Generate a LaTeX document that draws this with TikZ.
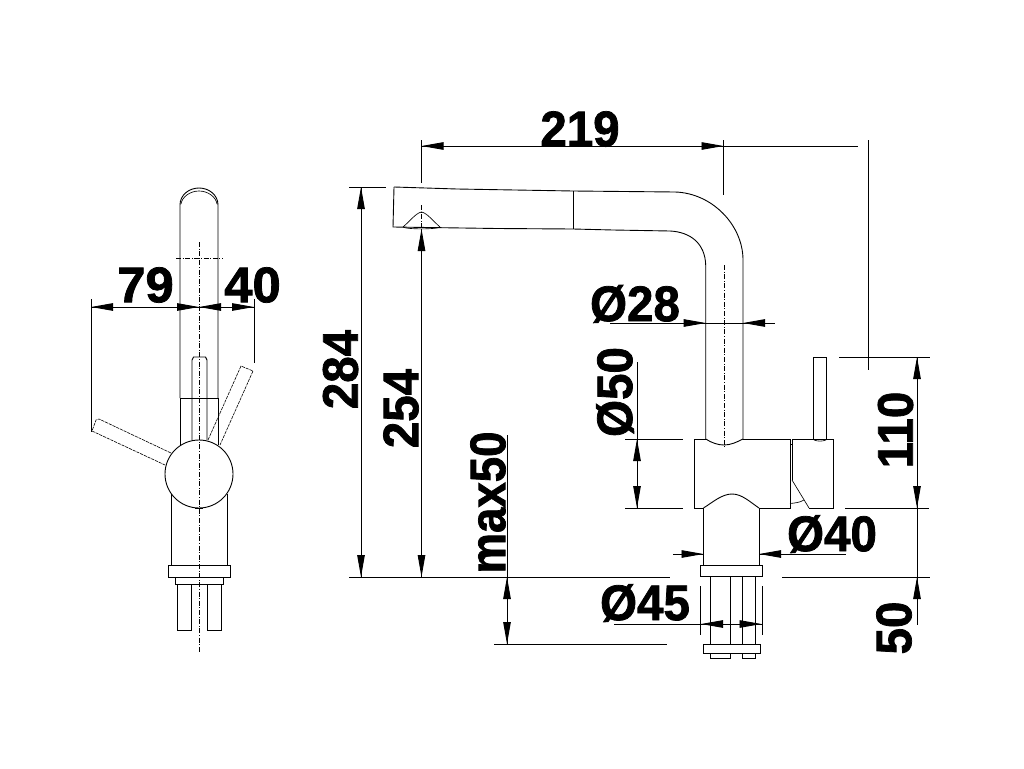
\documentclass[tikz,border=0pt]{standalone}
\usepackage{graphicx}
\usepackage{fontspec}
\setmainfont{Liberation Sans}
\newfontfamily\lblf{Liberation Sans}[UprightFont=* Bold,FakeBold=1.5,FakeStretch=0.95]
\usetikzlibrary{arrows.meta}
\tikzset{
  ln/.style={line width=0.9pt,black},
  thin ln/.style={line width=0.65pt,black},
  dd/.style={line width=0.6pt,dash pattern=on 5pt off 1.6pt on 1pt off 1.6pt},
  dsh/.style={line width=0.6pt,dash pattern=on 3.2pt off 0.9pt},
  lbl/.style={font=\fontsize{50}{50}\lblf,inner sep=0pt,text=black},
}
\newcommand{\ahead}[2]{\draw[ln,-{Triangle[length=22pt,width=7.5pt]}] #1 -- #2;}
\begin{document}
\begin{tikzpicture}[x=1pt,y=-1pt]
\useasboundingbox[fill=white] (0,0) rectangle (1024,768);
% --- left view
\draw[ln] (180,398) -- (180,205) .. controls (180,195) and (189,188) .. (199,188) .. controls (209,188) and (218,195) .. (218,205) -- (218,398);
\draw[thin ln] (181,204) .. controls (182,197) and (190,191) .. (199,191) .. controls (208,191) and (216,197) .. (217,204);
\coordinate (lc) at (199,474);
\draw[ln] (180,398) -- (218,398);
\draw[ln] (180,398) -- (180,445);
\draw[ln] (218,398) -- (218,445);
\draw[ln] (192,440) -- (192,360) -- (193.5,357) -- (205.5,357) -- (207,360) -- (207,440);
\draw[ln] (lc) circle[radius=34];
\draw[ln] (171,494) -- (171,565);
\draw[ln] (227,494) -- (227,565);
\draw[ln] (168,565) rectangle (230,577);
\draw[ln] (175,577) rectangle (223,584);
\draw[ln] (177,584) rectangle (191,630);
\draw[ln] (207,584) rectangle (221,630);
\draw[thin ln] (195,508.5) -- (203,508.5);
\draw[dd] (199.5,242) -- (199.5,653);
\draw[dd] (176,258) -- (223,258);
% levers
\draw[dsh] (171,453) -- (99,419) -- (96,420) -- (92,431) -- (165,465);
\draw[dsh] (208,440) -- (241,366) -- (253,371) -- (220,445);
% left dims
\draw[ln] (91,299) -- (91,432);
\draw[ln] (254,299) -- (254,363);
\coordinate (dl) at (91,307); \coordinate (dr) at (254,307);
\draw[ln] (dl) -- (dr);
\ahead{(115,307)}{(91,307)}
\ahead{(176,307)}{(199,307)}
\ahead{(222,307)}{(199,307)}
\ahead{(231,307)}{(254,307)}
\node[lbl] (t79) at (145.5,285) {\scalebox{1.07}[1]{79}};
\node[lbl] (t40) at (252.5,285) {\scalebox{1.07}[1]{40}};
% --- right view spout
\draw[ln] (394,187) -- (457,189) -- (515,190) -- (573,191) -- (675,192) .. controls (712,193) and (743,225) .. (743,260) -- (743,439);
\draw[ln] (394,187) -- (393,227) -- (497,228.5) -- (573,229) -- (613,230) -- (670,231) .. controls (690,232) and (705,243) .. (705.7,265) -- (705.7,439);
\draw[ln] (573.5,191) -- (573.5,229);
\draw[thin ln] (403,227) .. controls (410,221) and (416,213) .. (421.5,212) .. controls (427,213) and (433,221) .. (440,227);
\draw[thin ln] (403,227) .. controls (406,229.5) and (437,229.5) .. (440,227);
\draw[dd] (421.5,205) -- (421.5,227);
\draw[dd] (724.3,265) -- (724.3,447);
% body
\draw[ln] (705.7,439) -- (694,439) -- (694,508) -- (703.5,508);
\draw[ln] (743,439) -- (790,439) -- (790,508) -- (759,508);
\draw[ln] (705.7,439) .. controls (712,443) and (718,445) .. (724,445) .. controls (731,445) and (737,442) .. (743,439);
\draw[ln] (703.5,508) .. controls (713,502) and (722,494) .. (732,494) .. controls (742,494) and (750,502) .. (759,508);
\draw[ln] (703.5,508) -- (703.5,565);
\draw[ln] (759,508) -- (759,565);
% handle
\draw[ln] (813.7,439) -- (813.7,357) -- (826.7,357) -- (826.7,439);
\draw[thin ln] (814,440) .. controls (818,441.5) and (822,441.5) .. (826,440);
\draw[ln] (792,480) -- (792,439) -- (833,439) -- (833,508) -- (809,508);
\draw[thin ln] (792,480) -- (809,508);
\draw[thin ln] (790,503.5) .. controls (795,503) and (800,502.5) .. (804,500);
\draw[thin ln] (790,444) -- (792,444);
% base
\draw[ln] (700.7,565) rectangle (762,576.5);
\draw[ln] (710,576.5) -- (710,644);
\draw[ln] (730,576.5) -- (730,644);
\draw[ln] (742,576.5) -- (742,644);
\draw[ln] (755,576.5) -- (755,644);
\draw[ln] (703,644) rectangle (760,653.5);
\draw[ln] (710,653.5) rectangle (730,658);
\draw[ln] (742,653.5) rectangle (755,658);
% 219
\draw[ln] (421.5,140) -- (421.5,183);
\draw[ln] (723.5,140) -- (723.5,195);
\draw[ln] (421.5,146) -- (858,146);
\ahead{(445,146)}{(421.5,146)}
\ahead{(700,146)}{(723.5,146)}
\node[lbl] (t219) at (580,129) {219};
\draw[ln] (868.5,140) -- (868.5,370);
% 284 / 254
\draw[ln] (349,187) -- (386,187);
\draw[ln] (361,187) -- (361,577);
\ahead{(361,211)}{(361,187)}
\ahead{(361,553)}{(361,577)}
\draw[ln] (421.5,229) -- (421.5,577);
\ahead{(421.5,253)}{(421.5,229)}
\ahead{(421.5,553)}{(421.5,577)}
\node[lbl,rotate=90] (t284) at (340.5,369.5) {284};
\node[lbl,rotate=90] (t254) at (401,408.5) {254};
\draw[ln] (349,577) -- (670,577);
\draw[ln] (782,577) -- (930,577);
% max50
\draw[ln] (507,435) -- (507,644);
\ahead{(507,600)}{(507,577)}
\ahead{(507,622)}{(507,644)}
\draw[ln] (494,644) -- (667,644);
\node[lbl,rotate=90] (tmax) at (488,502.5) {\scalebox{0.96}[1]{max50}};
% Ø28
\draw[ln] (610,323) -- (775,323);
\ahead{(682,323)}{(705.7,323)}
\ahead{(767,323)}{(743,323)}
\node[lbl] (t28) at (635,304) {Ø28};
% Ø50
\draw[ln] (637,362) -- (637,508);
\draw[ln] (625,439) -- (683,439);
\draw[ln] (625,508) -- (683,508);
\ahead{(637,463)}{(637,439)}
\ahead{(637,485)}{(637,508)}
\node[lbl,rotate=90] (t50) at (615,392) {Ø50};
% 110 / 50
\draw[ln] (839,357) -- (930,357);
\draw[ln] (845,508) -- (929,508);
\draw[ln] (917,357) -- (917,625);
\ahead{(917,381)}{(917,357)}
\ahead{(917,485)}{(917,508)}
\ahead{(917,600)}{(917,577)}
\node[lbl,rotate=90] (t110) at (895.5,430) {110};
\node[lbl,rotate=90] (t50b) at (894,628) {50};
% Ø40
\draw[ln] (673,554) -- (703.5,554);
\draw[ln] (759,554) -- (846,554);
\ahead{(680,554)}{(703.5,554)}
\ahead{(782,554)}{(759,554)}
\node[lbl] (t40d) at (832,534) {Ø40};
% Ø45
\draw[ln] (614,624) -- (762,624);
\draw[ln] (700.7,586) -- (700.7,635);
\draw[ln] (762,586) -- (762,635);
\ahead{(724,624)}{(701,624)}
\ahead{(739,624)}{(761.5,624)}
\node[lbl] (t45) at (645,603) {Ø45};
\end{tikzpicture}
\end{document}
